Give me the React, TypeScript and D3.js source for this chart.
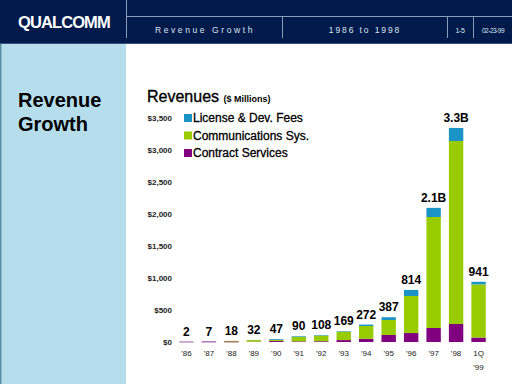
import React, { useEffect, useRef } from 'react';
import * as d3 from 'd3';

const years = ["'86", "'87", "'88", "'89", "'90", "'91", "'92", "'93", "'94", "'95", "'96", "'97", "'98", '1Q'];
const contractServices = [2, 7, 10, 5, 15, 10, 12, 30, 50, 110, 140, 219, 281, 70];
const communicationsSys = [0, 0, 8, 25, 20, 70, 88, 130, 200, 234, 579, 1734, 2860, 830];
const licenseFees = [0, 0, 0, 2, 12, 10, 8, 9, 22, 43, 95, 143, 203, 41];
const totalLabels = ['2', '7', '18', '32', '47', '90', '108', '169', '272', '387', '814', '2.1B', '3.3B', '941'];
const yTicks = [0, 500, 1000, 1500, 2000, 2500, 3000, 3500];

const seriesKeys = ['contract', 'comms', 'license'];
const seriesColors: Record<string, string> = {
  contract: '#800080',
  comms: '#99cc00',
  license: '#1a93c6',
};
const legendItems = [
  { key: 'license', label: 'License & Dev. Fees' },
  { key: 'comms', label: 'Communications Sys.' },
  { key: 'contract', label: 'Contract Services' },
];

const FONT = 'Liberation Sans, Arial, sans-serif';

export default function App() {
  const svgRef = useRef<SVGSVGElement>(null);

  useEffect(() => {
    if (!svgRef.current) return;
    const svg = d3.select(svgRef.current);
    svg.selectAll('*').remove();

    // Slide frame
    svg.append('rect').attr('width', 512).attr('height', 384).attr('fill', '#fff');
    svg.append('rect').attr('x', 0).attr('y', 43).attr('width', 126).attr('height', 341).attr('fill', '#b5ddec');
    svg.append('rect').attr('x', 0).attr('y', 43).attr('width', 1.5).attr('height', 341).attr('fill', '#5c8ea3');
    svg.append('rect').attr('width', 512).attr('height', 44).attr('fill', '#001a4c');
    svg.append('line').attr('x1', 0).attr('x2', 512).attr('y1', 43.5).attr('y2', 43.5).attr('stroke', '#3a5079');

    const lineColor = '#8c9bb8';
    svg.append('line').attr('x1', 126.5).attr('x2', 126.5).attr('y1', 0).attr('y2', 38).attr('stroke', lineColor);
    svg.append('line').attr('x1', 126).attr('x2', 512).attr('y1', 16.5).attr('y2', 16.5).attr('stroke', lineColor);
    [282.5, 447.5, 473.5].forEach(x => {
      svg.append('line').attr('x1', x).attr('x2', x).attr('y1', 16).attr('y2', 38).attr('stroke', lineColor);
    });

    svg.append('text').attr('x', 18).attr('y', 28).attr('fill', '#fff')
      .attr('font-family', FONT).attr('font-weight', 'bold').attr('font-size', 16.5)
      .attr('letter-spacing', -0.9).text('QUALCOMM');

    const hdr = (x: number, t: string, size: number, ls: number) =>
      svg.append('text').attr('x', x).attr('y', 33).attr('fill', '#dfe4ee')
        .attr('text-anchor', 'middle').attr('font-family', FONT)
        .attr('font-size', size).attr('letter-spacing', ls).text(t);
    hdr(205, 'Revenue Growth', 8.5, 2.6);
    hdr(365, '1986 to 1998', 8.5, 1.9);
    hdr(460, '1-5', 7, -0.3);
    hdr(493, '02-23-99', 6.5, -0.5);

    svg.append('text').attr('x', 18).attr('y', 107).attr('fill', '#000')
      .attr('font-family', FONT).attr('font-weight', 'bold').attr('font-size', 20).text('Revenue');
    svg.append('text').attr('x', 18).attr('y', 131).attr('fill', '#000')
      .attr('font-family', FONT).attr('font-weight', 'bold').attr('font-size', 20).text('Growth');

    const title = svg.append('text').attr('x', 147).attr('y', 102)
      .attr('font-family', FONT).attr('fill', '#000');
    title.append('tspan').attr('font-size', 16).attr('stroke', '#000').attr('stroke-width', 0.35).text('Revenues ');
    title.append('tspan').attr('font-size', 9).attr('font-weight', 'bold').text('($ Millions)');

    // Chart
    const x = d3.scaleBand().domain(years).range([177, 488]).paddingInner(0.36).paddingOuter(0.1);
    const y = d3.scaleLinear().domain([0, 3500]).range([342, 118]);

    const table = years.map((yr, i) => ({
      year: yr,
      contract: contractServices[i],
      comms: communicationsSys[i],
      license: licenseFees[i],
    }));
    const stacked = d3.stack<any>().keys(seriesKeys)(table);

    svg.append('g').selectAll('g').data(stacked).enter().append('g')
      .attr('fill', d => seriesColors[d.key])
      .selectAll('rect').data(d => d).enter().append('rect')
      .attr('x', d => x(d.data.year)!)
      .attr('width', x.bandwidth())
      .attr('y', d => y(d[1]))
      .attr('height', d => Math.max(0, y(d[0]) - y(d[1])));

    // baseline hairlines for tiny bars
    svg.append('g').selectAll('rect').data(table.slice(0, 3)).enter().append('rect')
      .attr('x', d => x(d.year)!).attr('width', x.bandwidth())
      .attr('y', 341.5).attr('height', 1)
      .attr('fill', (d, i) => (i === 2 ? '#9a7a5a' : '#a070a8'));

    const totals = table.map(d => d.contract + d.comms + d.license);
    svg.append('g').selectAll('text').data(table).enter().append('text')
      .attr('x', d => x(d.year)! + x.bandwidth() / 2)
      .attr('y', (d, i) => Math.min(y(totals[i]) - 6, 336))
      .attr('text-anchor', 'middle').attr('font-family', FONT)
      .attr('font-weight', 'bold').attr('font-size', 12).attr('fill', '#000')
      .text((d, i) => totalLabels[i]);

    // Y axis labels
    const yAxis = svg.append('g').attr('transform', 'translate(172,0)')
      .call(d3.axisLeft(y).tickValues(yTicks).tickSize(0).tickPadding(0)
        .tickFormat(d => '$' + d3.format(',')(d as number)));
    yAxis.select('.domain').remove();
    yAxis.selectAll('text').attr('font-family', FONT).attr('font-size', 8)
      .attr('font-weight', 'bold').attr('fill', '#222').attr('dy', '0.32em');

    // X axis labels
    const xAxis = svg.append('g').attr('transform', 'translate(0,350)')
      .call(d3.axisBottom(x).tickSize(0).tickPadding(0));
    xAxis.select('.domain').remove();
    xAxis.selectAll('text').attr('font-family', FONT).attr('font-size', 8)
      .attr('fill', '#222').attr('dy', '0.71em');
    svg.append('text').attr('x', x('1Q')! + x.bandwidth() / 2).attr('y', 370)
      .attr('text-anchor', 'middle').attr('font-family', FONT).attr('font-size', 8)
      .attr('fill', '#222').text("'99");

    // Legend
    const lg = svg.append('g').selectAll('g').data(legendItems).enter().append('g')
      .attr('transform', (d, i) => `translate(184,${122 + i * 17.5})`);
    lg.append('rect').attr('x', 0).attr('y', -8).attr('width', 8).attr('height', 8)
      .attr('fill', d => seriesColors[d.key]);
    lg.append('text').attr('x', 9).attr('y', 0).attr('font-family', FONT)
      .attr('font-size', 12).attr('fill', '#000').attr('stroke', '#000').attr('stroke-width', 0.3)
      .text(d => d.label);
  }, []);

  return (
    <div style={{ position: 'absolute', left: 0, top: 0 }}>
      <svg ref={svgRef} width={512} height={384} style={{ display: 'block' }} />
    </div>
  );
}
